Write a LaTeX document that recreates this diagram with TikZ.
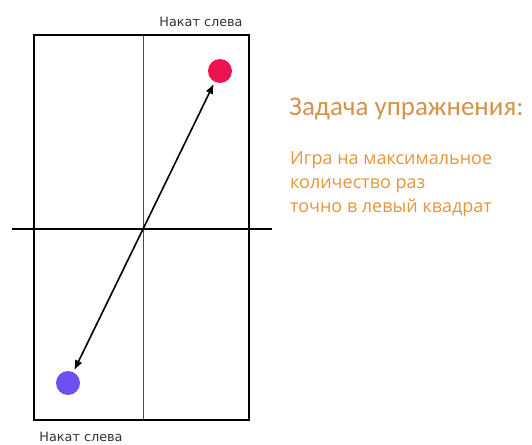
\documentclass[tikz,border=0pt]{standalone}
\usepackage{fontspec}
\setmainfont{Carlito}
\newfontfamily\lblfont{DejaVu Sans}
\newfontfamily\bodyfont{Open Sans}
\usetikzlibrary{arrows.meta}
\definecolor{ttl}{RGB}{214,146,72}
\definecolor{bodyc}{RGB}{232,148,62}
\definecolor{redball}{RGB}{236,20,80}
\definecolor{blueball}{RGB}{110,80,240}
\tikzset{
  x=1pt,y=-1pt,
  thick line/.style={line width=2.6pt},
  lbl/.style={font=\lblfont\fontsize{12.8}{14}\selectfont, text=black!80, inner sep=0pt, anchor=base},
  ball/.style={circle, minimum size=24pt, inner sep=0pt},
  conn/.style={line width=1.6pt, {Latex[length=10pt,width=8pt]}-{Latex[length=10pt,width=8pt]}, shorten <=2pt, shorten >=2pt}
}
\begin{document}
\begin{tikzpicture}
\useasboundingbox (0,0) rectangle (532,444);
\draw[line width=0.8pt, black!70] (143,35) -- (143,420);
\draw[thick line] (34,35) rectangle (249,420);
\draw[thick line] (12,229) -- (272,229);
\node[ball, fill=redball] (r) at (220,71) {};
\node[ball, fill=blueball] (b) at (68,383) {};
\draw[conn] (b) -- (r);
\node[lbl] (t1) at (201,27) {Накат слева};
\node[lbl] (t2) at (81,441) {Накат слева};
\node[anchor=base west, text=ttl, font=\fontsize{27}{30}\selectfont, inner sep=0pt] (title) at (289,115) {Задача упражнения:};
\node[anchor=base west, text=bodyc, font=\bodyfont\fontsize{18}{24}\selectfont, align=left, inner sep=0pt] (body) at (290,212) {Игра на максимальное\\количество раз\\точно в левый квадрат};
\end{tikzpicture}
\end{document}
